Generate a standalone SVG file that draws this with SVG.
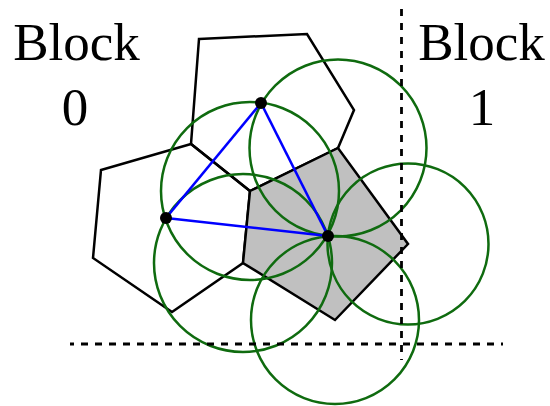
<svg xmlns="http://www.w3.org/2000/svg" width="550" height="406" viewBox="0 0 550 406">
<style>
.cell{fill:none;stroke:#000;stroke-width:2.5;stroke-linejoin:miter}
.gray{fill:#c0c0c0}
.circ{fill:none;stroke:#0f6b0f;stroke-width:2.5}
.edge{stroke:#0000ff;stroke-width:2.6;fill:none}
.pt{fill:#000}
.dash{stroke:#000;stroke-width:2.8;stroke-dasharray:7 7;fill:none}
.lbl{font-family:"Liberation Serif","Times New Roman",serif;font-size:53px;fill:#000;text-anchor:middle}
</style>
<rect width="550" height="406" fill="#fff"/>
<g id="cells">
  <g id="cell-top"><polygon class="cell" points="199,39 307,34 354,110 338,148 250,191 191,144"/></g>
  <g id="cell-left"><polygon class="cell" points="191,144 101,170 93,258 172,312 243,263 250,191"/></g>
  <g id="cell-right"><polygon class="cell gray" points="250,191 338,148 408,244 335,320 243,263" style="stroke:#000;stroke-width:2.5"/></g>
</g>
<g id="circles">
  <g id="circle-1"><circle class="circ" cx="250" cy="191" r="89"/></g>
  <g id="circle-2"><circle class="circ" cx="338" cy="148" r="88.5"/></g>
  <g id="circle-3"><circle class="circ" cx="408" cy="244" r="80.5"/></g>
  <g id="circle-4"><circle class="circ" cx="335" cy="320" r="84"/></g>
  <g id="circle-5"><circle class="circ" cx="243" cy="263" r="89"/></g>
</g>
<g id="connectors">
  <line class="edge" x1="261" y1="103" x2="166" y2="218"/>
  <line class="edge" x1="261" y1="103" x2="328" y2="236"/>
  <line class="edge" x1="166" y1="218" x2="328" y2="236"/>
</g>
<g id="points">
  <g id="point-top"><circle class="pt" cx="261" cy="103" r="6"/></g>
  <g id="point-left"><circle class="pt" cx="166" cy="218" r="6"/></g>
  <g id="point-right"><circle class="pt" cx="328" cy="236" r="6"/></g>
</g>
<g id="block-boundaries">
  <line class="dash" x1="401.5" y1="9" x2="401.5" y2="360"/>
  <line class="dash" x1="70" y1="344" x2="503" y2="344" stroke-dashoffset="3"/>
</g>
<g id="labels">
  <g id="block0"><text class="lbl" x="76.5" y="60">Block</text><text class="lbl" x="75" y="125">0</text></g>
  <g id="block1"><text class="lbl" x="481.5" y="60">Block</text><text class="lbl" x="482" y="125">1</text></g>
</g>
</svg>
